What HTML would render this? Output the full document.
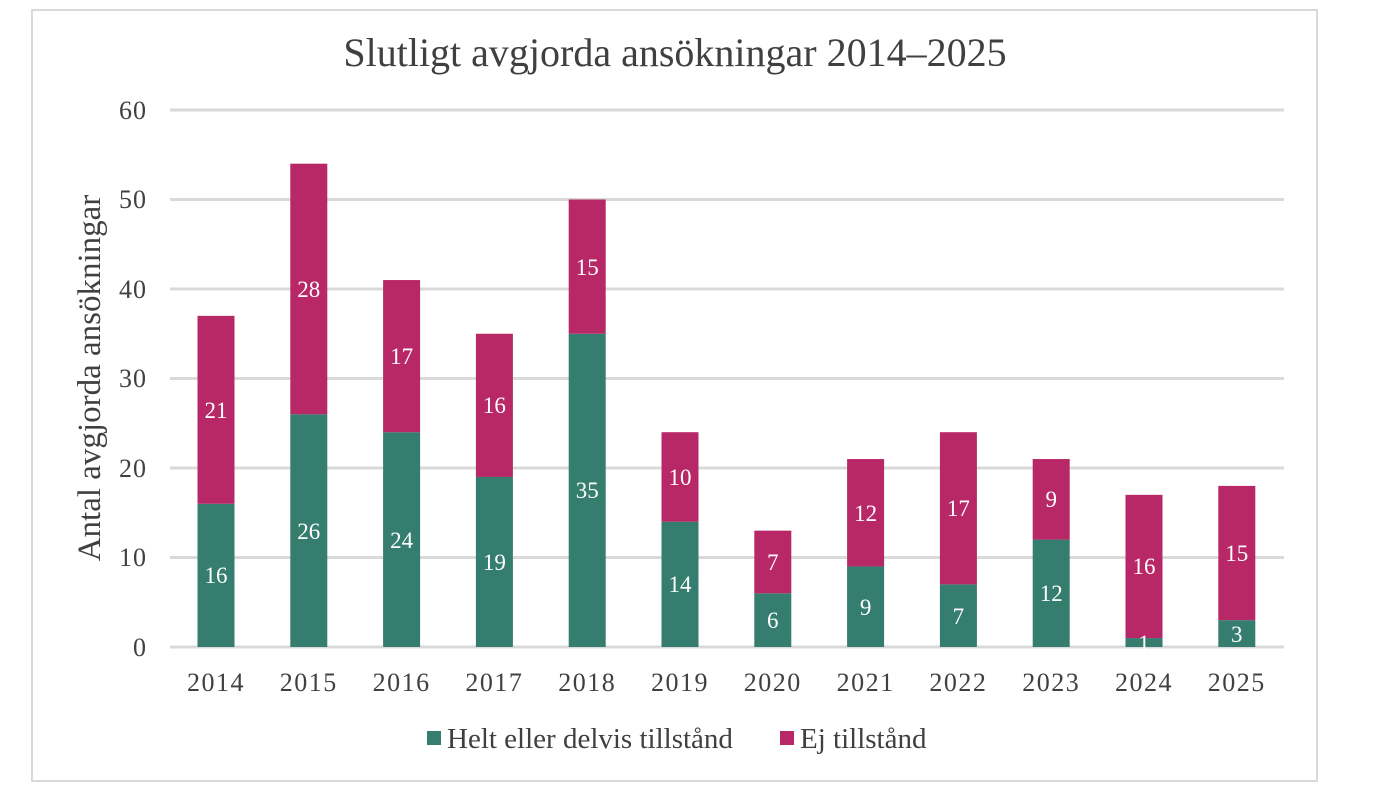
<!DOCTYPE html>
<html><head><meta charset="utf-8"><style>
html,body{margin:0;padding:0;background:#fff;}
svg{display:block;font-family:"Liberation Serif",serif;}
</style></head><body>
<svg width="1400" height="801" viewBox="0 0 1400 801">
<rect x="32" y="10" width="1285" height="771" fill="#fff" stroke="#d9d9d9" stroke-width="2"/>
<text x="675" y="66" text-anchor="middle" font-size="40" fill="#404040">Slutligt avgjorda ansökningar 2014–2025</text>
<g stroke="#d9d9d9" stroke-width="3">
<line x1="170" x2="1284" y1="110" y2="110"/>
<line x1="170" x2="1284" y1="199.5" y2="199.5"/>
<line x1="170" x2="1284" y1="289" y2="289"/>
<line x1="170" x2="1284" y1="378.5" y2="378.5"/>
<line x1="170" x2="1284" y1="468" y2="468"/>
<line x1="170" x2="1284" y1="557.5" y2="557.5"/>
<line x1="170" x2="1284" y1="647" y2="647"/>
</g>
<g font-size="26" fill="#404040" text-anchor="end" letter-spacing="1">
<text x="147" y="119">60</text><text x="147" y="208">50</text><text x="147" y="298">40</text>
<text x="147" y="387">30</text><text x="147" y="477">20</text><text x="147" y="566">10</text><text x="147" y="656">0</text>
</g>
<text transform="translate(100,378) rotate(-90)" text-anchor="middle" font-size="33" fill="#404040">Antal avgjorda ansökningar</text>
<g fill="#357d6f">
<rect x="197.5" y="503.8" width="37" height="143.2"/>
<rect x="290.3" y="414.3" width="37" height="232.7"/>
<rect x="383.1" y="432.2" width="37" height="214.8"/>
<rect x="475.9" y="476.95" width="37" height="170.05"/>
<rect x="568.7" y="333.75" width="37" height="313.25"/>
<rect x="661.5" y="521.7" width="37" height="125.3"/>
<rect x="754.3" y="593.3" width="37" height="53.7"/>
<rect x="847.1" y="566.45" width="37" height="80.55"/>
<rect x="939.9" y="584.35" width="37" height="62.65"/>
<rect x="1032.7" y="539.6" width="37" height="107.4"/>
<rect x="1125.5" y="638.05" width="37" height="8.95"/>
<rect x="1218.3" y="620.15" width="37" height="26.85"/>
</g>
<g fill="#b82867">
<rect x="197.5" y="315.85" width="37" height="187.95"/>
<rect x="290.3" y="163.7" width="37" height="250.6"/>
<rect x="383.1" y="280.05" width="37" height="152.15"/>
<rect x="475.9" y="333.75" width="37" height="143.2"/>
<rect x="568.7" y="199.5" width="37" height="134.25"/>
<rect x="661.5" y="432.2" width="37" height="89.5"/>
<rect x="754.3" y="530.65" width="37" height="62.65"/>
<rect x="847.1" y="459.05" width="37" height="107.4"/>
<rect x="939.9" y="432.2" width="37" height="152.15"/>
<rect x="1032.7" y="459.05" width="37" height="80.55"/>
<rect x="1125.5" y="494.85" width="37" height="143.2"/>
<rect x="1218.3" y="485.9" width="37" height="134.25"/>
</g>
<g fill="#fff" font-size="23" text-anchor="middle">
<text x="216" y="583">16</text><text x="216" y="418">21</text>
<text x="308.8" y="539">26</text><text x="308.8" y="297">28</text>
<text x="401.6" y="548">24</text><text x="401.6" y="364">17</text>
<text x="494.4" y="570">19</text><text x="494.4" y="413">16</text>
<text x="587.2" y="498">35</text><text x="587.2" y="275">15</text>
<text x="680" y="592">14</text><text x="680" y="485">10</text>
<text x="772.8" y="628">6</text><text x="772.8" y="570">7</text>
<text x="865.6" y="615">9</text><text x="865.6" y="521">12</text>
<text x="958.4" y="624">7</text><text x="958.4" y="516">17</text>
<text x="1051.2" y="601">12</text><text x="1051.2" y="507">9</text>
<text x="1144" y="651">1</text><text x="1144" y="574">16</text>
<text x="1236.8" y="642">3</text><text x="1236.8" y="561">15</text>
</g>
<g font-size="26" fill="#404040" text-anchor="middle" letter-spacing="1.5">
<text x="216" y="691">2014</text><text x="308.8" y="691">2015</text><text x="401.6" y="691">2016</text>
<text x="494.4" y="691">2017</text><text x="587.2" y="691">2018</text><text x="680" y="691">2019</text>
<text x="772.8" y="691">2020</text><text x="865.6" y="691">2021</text><text x="958.4" y="691">2022</text>
<text x="1051.2" y="691">2023</text><text x="1144" y="691">2024</text><text x="1236.8" y="691">2025</text>
</g>
<rect x="427" y="731" width="14" height="14" fill="#357d6f"/>
<text x="447" y="748" font-size="29" fill="#404040">Helt eller delvis tillstånd</text>
<rect x="780" y="731" width="14" height="14" fill="#b82867"/>
<text x="800" y="748" font-size="29" fill="#404040">Ej tillstånd</text>
</svg>
</body></html>
